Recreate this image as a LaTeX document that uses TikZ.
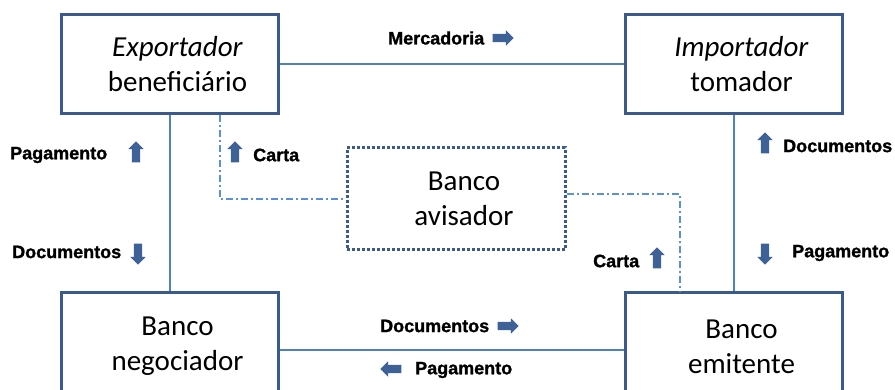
\documentclass[tikz,border=0pt]{standalone}
\usepackage{fontspec}
\setmainfont{Carlito}
\newfontfamily\labelfont[BoldFeatures={FakeBold=1.2}]{Liberation Sans}
\usetikzlibrary{positioning,shapes.arrows}

\definecolor{boxblue}{HTML}{3A5A8C}
\definecolor{linkblue}{HTML}{4F81BD}
\definecolor{cartablue}{HTML}{5B8FD6}
\definecolor{arrowblue}{HTML}{3E6197}

\newcommand{\pad}{\hspace*{16pt}}

\tikzset{
  party/.style={draw=boxblue, line width=3pt, minimum width=217pt, minimum height=99pt,
    align=center, font=\fontsize{29}{35}\selectfont},
  avisobox/.style={party, dash pattern=on 3pt off 2pt},
  link/.style={draw=linkblue, line width=2pt},
  cartaline/.style={draw=cartablue, line width=2pt, dash pattern=on 7pt off 3pt on 2pt off 3pt},
  lbl/.style={font=\labelfont\bfseries\fontsize{18}{20}\selectfont, inner sep=0pt},
  flow/.style={single arrow, fill=arrowblue, draw=none, inner sep=4pt,
    minimum height=21pt, single arrow head extend=3.5pt}
}

\begin{document}
\begin{tikzpicture}[x=1pt, y=-1pt]
  \useasboundingbox (0,0) rectangle (895,390);

  % the five parties
  \node[party] (exp) at (169.5,64.5) {\pad\textit{Exportador}\\\pad beneficiário};
  \node[party] (imp) at (733.5,64.5) {\pad\textit{Importador}\\\pad tomador};
  \node[party, minimum height=107pt] (neg) at (169.5,346.5) {\pad Banco\\\pad negociador};
  \node[party, minimum height=107pt] (emi) at (733.5,346.5) {\pad Banco\\\pad emitente};
  \node[avisobox, minimum width=218pt, minimum height=102pt] (avi) at (456,199) {\pad Banco\\\pad avisador};

  % connections
  \draw[link] (exp) -- (imp);
  \draw[link] ([yshift=-3.5pt]neg.east) -- ([yshift=-3.5pt]emi.west);
  \draw[link] (exp) -- (neg);
  \draw[link] (imp) -- (emi);
  \draw[cartaline] ([xshift=50pt]exp.south) |- (avi.west);
  \draw[cartaline] ([yshift=5pt]avi.east) -| ([xshift=-54pt]emi.north);

  % flow labels
  \node[lbl, anchor=west] (merc) at (388,38) {Mercadoria};
  \node[flow, right=8pt of merc] (mercarr) {};

  \node[lbl, anchor=west] (pagexp) at (10,155) {Pagamento};
  \node[flow, rotate=90] (pagexparr) at (136,154) {};
  \node[flow, rotate=90] (cartaexparr) at (235,154) {};
  \node[lbl, anchor=west] (cartaexp) at (253,155) {Carta};

  \node[lbl, anchor=west] (docneg) at (12,252) {Documentos};
  \node[flow, rotate=-90] (docnegarr) at (138,252) {};

  \node[flow, rotate=90] (docimparr) at (765,145) {};
  \node[lbl, anchor=west] (docimp) at (783,146) {Documentos};
  \node[flow, rotate=-90] (pagimparr) at (765,252) {};
  \node[lbl, anchor=west] (pagimp) at (792,253) {Pagamento};

  \node[lbl, anchor=west] (cartaemi) at (593,261) {Carta};
  \node[flow, rotate=90] (cartaemiarr) at (657,260) {};

  \node[lbl, anchor=west] (docbanco) at (380,326) {Documentos};
  \node[flow, right=8pt of docbanco] (docbancoarr) {};
  \node[flow, rotate=180] (pagbancoarr) at (393,369) {};
  \node[lbl, anchor=west] (pagbanco) at (415,370) {Pagamento};
\end{tikzpicture}
\end{document}
